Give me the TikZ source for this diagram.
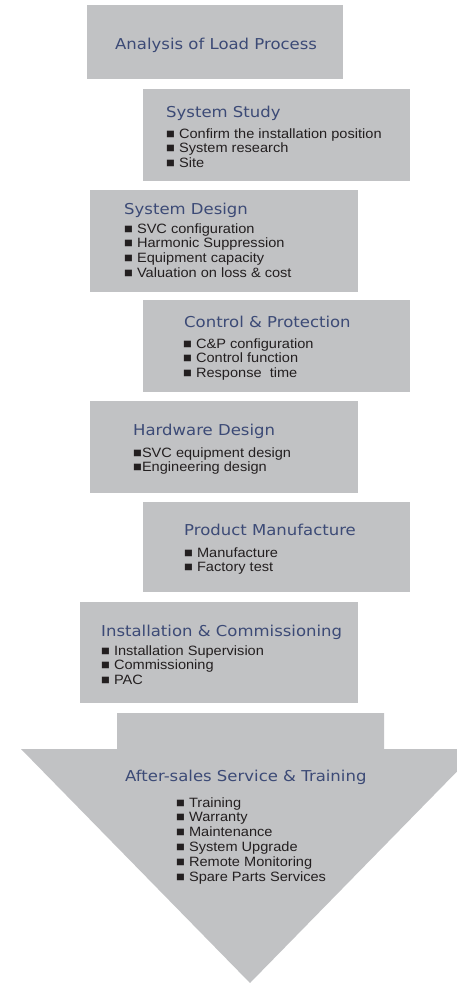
\documentclass[tikz,border=0pt]{standalone}
\usepackage{fontspec}
\setmainfont{Liberation Sans}[FakeStretch=1.08]
\newfontfamily\headfont{DejaVu Sans}[FakeStretch=1.1]
\usepackage{tikz}

\definecolor{boxgray}{RGB}{193,194,196}
\definecolor{headblue}{RGB}{60,74,118}
\definecolor{itemblack}{RGB}{35,31,32}

\tikzset{
  stage/.style={fill=boxgray, inner sep=0pt, anchor=north west},
  head/.style={inner sep=0pt, anchor=base west, text=headblue,
    font=\headfont\fontsize{15bp}{18bp}\selectfont},
  items/.style={inner sep=0pt, anchor=base west, text=itemblack,
    font=\fontsize{13.5bp}{14.8bp}\selectfont},
}

\begin{document}
\begin{tikzpicture}[x=1bp,y=-1bp]
\useasboundingbox (0,0) rectangle (457,983);
\clip (0,0) rectangle (457,983);

% boxes, top to bottom
\node (load) [stage, minimum width=256bp, minimum height=74bp] at (87,5) {};
\node (study) [stage, minimum width=267bp, minimum height=92bp] at (143,89) {};
\node (design) [stage, minimum width=268bp, minimum height=102bp] at (90,190) {};
\node (protect) [stage, minimum width=267bp, minimum height=92bp] at (143,300) {};
\node (hardware) [stage, minimum width=268bp, minimum height=92bp] at (90,401) {};
\node (manufacture) [stage, minimum width=267bp, minimum height=90bp] at (143,502) {};
\node (install) [stage, minimum width=278bp, minimum height=101bp] at (80,602) {};

% big arrow at the bottom
\fill[boxgray] (117,713) -- (384,713) -- (384,749) -- (479,749)
  -- (250,983) -- (21,749) -- (117,749) -- cycle;

\node (loadhead) [head] at (115,49) {Analysis of Load Process};

\node (studyhead) [head] at (166,117) {System Study};
\node (studylist) [items] at (166,138) {
\begin{tabular}[t]{@{}l@{}}
■ Confirm the installation position \\
■ System research \\
■ Site \\
\end{tabular}
};

\node (designhead) [head] at (124,214) {System Design};
\node (designlist) [items] at (124,233) {
\begin{tabular}[t]{@{}l@{}}
■ SVC configuration \\
■ Harmonic Suppression \\
■ Equipment capacity \\
■ Valuation on loss \& cost \\
\end{tabular}
};

\node (protecthead) [head] at (184,327) {Control \& Protection};
\node (protectlist) [items] at (183,348) {
\begin{tabular}[t]{@{}l@{}}
■ C\&P configuration \\
■ Control function \\
■ Response\ \ time \\
\end{tabular}
};

\node (hardwarehead) [head] at (133,435) {Hardware Design};
\node (hardwarelist) [items] at (133,457) {
\begin{tabular}[t]{@{}l@{}}
■SVC equipment design \\
■Engineering design \\
\end{tabular}
};

\node (manufacturehead) [head] at (184,535) {Product Manufacture};
\node (manufacturelist) [items] at (184,557) {
\begin{tabular}[t]{@{}l@{}}
■ Manufacture \\
■ Factory test \\
\end{tabular}
};

\node (installhead) [head] at (101,636) {Installation \& Commissioning};
\node (installlist) [items] at (101,655) {
\begin{tabular}[t]{@{}l@{}}
■ Installation Supervision \\
■ Commissioning \\
■ PAC \\
\end{tabular}
};

\node (servicehead) [head] at (125,781) {After-sales Service \& Training};
\node (servicelist) [items] at (176,807) {
\begin{tabular}[t]{@{}l@{}}
■ Training \\
■ Warranty \\
■ Maintenance \\
■ System Upgrade \\
■ Remote Monitoring \\
■ Spare Parts Services \\
\end{tabular}
};
\end{tikzpicture}
\end{document}
